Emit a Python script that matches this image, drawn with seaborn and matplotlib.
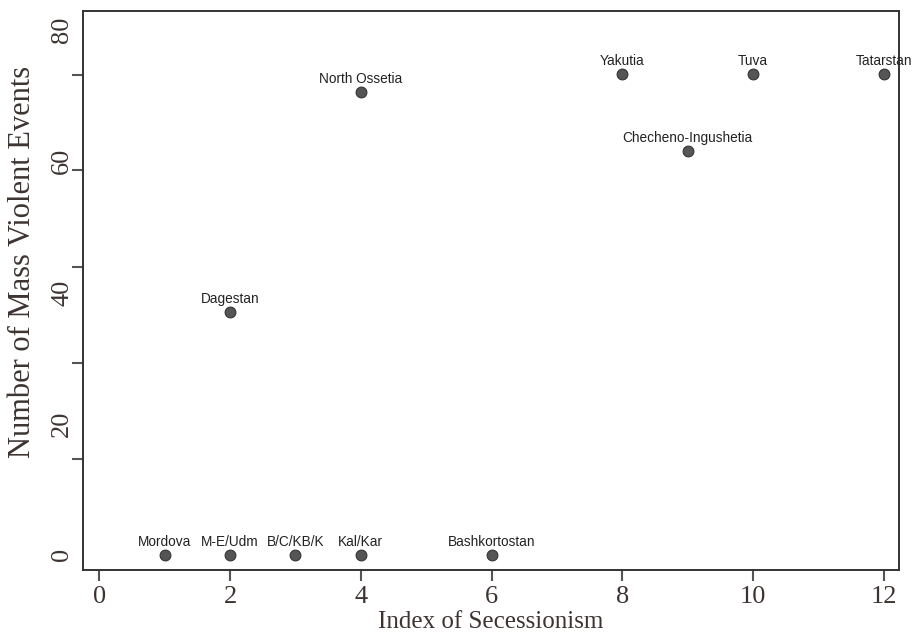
import matplotlib
matplotlib.use("Agg")
import matplotlib.pyplot as plt
import seaborn as sns
import pandas as pd

regions = ["Mordova", "M-E/Udm", "B/C/KB/K", "Kal/Kar", "Bashkortostan",
           "Dagestan", "North Ossetia", "Yakutia", "Checheno-Ingushetia", "Tuva", "Tatarstan"]
secessionism = [1, 2, 3, 4, 6, 2, 4, 8, 9, 10, 12]
violent_events = [0, 0, 0, 0, 0, 37, 70.5, 73.3, 61.5, 73.3, 73.3]
x_ticks = [0, 2, 4, 6, 8, 10, 12]
y_ticks = [0, 20, 40, 60, 80]
# tick marks on the y axis in the source sit at a different spacing from the labels
y_tick_marks = [0, 14.63, 29.27, 43.9, 58.7, 73.2]

df = pd.DataFrame({"region": regions, "x": secessionism, "y": violent_events})

sns.set_style("white")
plt.rcParams["font.family"] = ["Liberation Serif", "DejaVu Serif"]

fig = plt.figure(figsize=(9.16, 6.39), dpi=100)
ax = fig.add_axes([0.0906, 0.108, 0.8908, 0.875])

sns.scatterplot(data=df, x="x", y="y", ax=ax, s=60, color="#555555",
                edgecolor="#333333", linewidth=0.8, zorder=3)

for r, xv, yv in zip(regions, secessionism, violent_events):
    ax.annotate(r, (xv, yv), xytext=(0, 4.5), textcoords="offset points",
                ha="center", va="bottom", fontsize=9.8, color="#222222",
                family=["Liberation Sans", "DejaVu Sans"], annotation_clip=False)

ax.set_xlim(-0.25, 12.23)
ax.set_ylim(-2.3, 82.9)
ax.set_xticks(x_ticks)
ax.set_yticks(y_ticks)
ax.set_yticks(y_tick_marks, minor=True)
txtc = "#3d3432"
ax.tick_params(axis="x", direction="out", length=8, width=1.5, color="#555555",
               labelsize=19, labelcolor=txtc, bottom=True)
ax.tick_params(axis="y", which="major", direction="out", length=0, pad=7,
               labelsize=19, labelcolor=txtc, left=True)
ax.tick_params(axis="y", which="minor", direction="out", length=8, width=1.5,
               color="#555555", left=True)
for lab in ax.get_yticklabels():
    lab.set_rotation(90)
    lab.set_va("center")
ax.set_xlabel("Index of Secessionism", fontsize=18, color=txtc, labelpad=2)
ax.set_ylabel("Number of Mass Violent Events", fontsize=22, color=txtc)
ax.yaxis.set_label_coords(-0.056, 0.551)
for sp in ax.spines.values():
    sp.set_visible(True)
    sp.set_color("#333333")
    sp.set_linewidth(1.4)

fig.savefig("out.png", dpi=100)
